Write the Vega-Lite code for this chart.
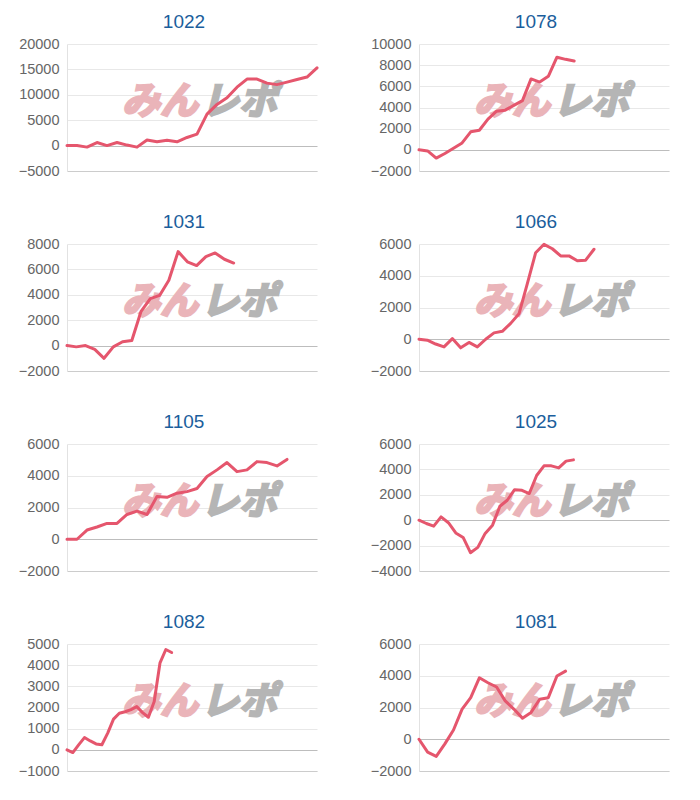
{
  "$schema": "https://vega.github.io/schema/vega-lite/v6.json",
  "background": "white",
  "padding": {"left": 18, "top": 13, "right": 5, "bottom": 5},
  "datasets": {
    "d1022": [{"i":0,"v":0},{"i":1,"v":0},{"i":2,"v":-300},{"i":3,"v":600},{"i":4,"v":0},{"i":5,"v":600},{"i":6,"v":100},{"i":7,"v":-300},{"i":8,"v":1100},{"i":9,"v":750},{"i":10,"v":1050},{"i":11,"v":750},{"i":12,"v":1600},{"i":13,"v":2250},{"i":14,"v":6200},{"i":15,"v":8100},{"i":16,"v":9400},{"i":17,"v":11500},{"i":18,"v":13100},{"i":19,"v":13100},{"i":20,"v":12300},{"i":21,"v":12000},{"i":22,"v":12500},{"i":23,"v":13000},{"i":24,"v":13500},{"i":25,"v":15300}],
    "d1078": [{"i":0,"v":0},{"i":1,"v":-100},{"i":2,"v":-780},{"i":3,"v":-350},{"i":4,"v":150},{"i":5,"v":650},{"i":6,"v":1700},{"i":7,"v":1850},{"i":8,"v":2900},{"i":9,"v":3650},{"i":10,"v":3750},{"i":11,"v":4200},{"i":12,"v":4650},{"i":13,"v":6700},{"i":14,"v":6400},{"i":15,"v":6950},{"i":16,"v":8750},{"i":17,"v":8550},{"i":18,"v":8400}],
    "d1031": [{"i":0,"v":0},{"i":1,"v":-100},{"i":2,"v":0},{"i":3,"v":-300},{"i":4,"v":-1000},{"i":5,"v":-100},{"i":6,"v":300},{"i":7,"v":400},{"i":8,"v":2700},{"i":9,"v":3700},{"i":10,"v":3950},{"i":11,"v":5150},{"i":12,"v":7400},{"i":13,"v":6600},{"i":14,"v":6300},{"i":15,"v":7000},{"i":16,"v":7300},{"i":17,"v":6800},{"i":18,"v":6500}],
    "d1066": [{"i":0,"v":0},{"i":1,"v":-60},{"i":2,"v":-300},{"i":3,"v":-480},{"i":4,"v":40},{"i":5,"v":-540},{"i":6,"v":-200},{"i":7,"v":-480},{"i":8,"v":0},{"i":9,"v":400},{"i":10,"v":500},{"i":11,"v":1000},{"i":12,"v":1600},{"i":13,"v":3500},{"i":14,"v":5450},{"i":15,"v":5980},{"i":16,"v":5700},{"i":17,"v":5250},{"i":18,"v":5250},{"i":19,"v":4940},{"i":20,"v":4980},{"i":21,"v":5670}],
    "d1105": [{"i":0,"v":0},{"i":1,"v":0},{"i":2,"v":580},{"i":3,"v":770},{"i":4,"v":1000},{"i":5,"v":1000},{"i":6,"v":1560},{"i":7,"v":1770},{"i":8,"v":1560},{"i":9,"v":2700},{"i":10,"v":2640},{"i":11,"v":2900},{"i":12,"v":3000},{"i":13,"v":3200},{"i":14,"v":3950},{"i":15,"v":4370},{"i":16,"v":4830},{"i":17,"v":4260},{"i":18,"v":4370},{"i":19,"v":4890},{"i":20,"v":4830},{"i":21,"v":4620},{"i":22,"v":5030}],
    "d1025": [{"i":0,"v":0},{"i":1,"v":-260},{"i":2,"v":-470},{"i":3,"v":260},{"i":4,"v":-200},{"i":5,"v":-1000},{"i":6,"v":-1360},{"i":7,"v":-2560},{"i":8,"v":-2140},{"i":9,"v":-1040},{"i":10,"v":-390},{"i":11,"v":1100},{"i":12,"v":1570},{"i":13,"v":2400},{"i":14,"v":2350},{"i":15,"v":2100},{"i":16,"v":3520},{"i":17,"v":4280},{"i":18,"v":4280},{"i":19,"v":4120},{"i":20,"v":4650},{"i":21,"v":4750}],
    "d1082": [{"i":0,"v":0},{"i":1,"v":-130},{"i":2,"v":230},{"i":3,"v":580},{"i":4,"v":420},{"i":5,"v":280},{"i":6,"v":240},{"i":7,"v":790},{"i":8,"v":1450},{"i":9,"v":1730},{"i":10,"v":1800},{"i":11,"v":1900},{"i":12,"v":2040},{"i":13,"v":1760},{"i":14,"v":1540},{"i":15,"v":2280},{"i":16,"v":4110},{"i":17,"v":4740},{"i":18,"v":4600}],
    "d1081": [{"i":0,"v":0},{"i":1,"v":-810},{"i":2,"v":-1080},{"i":3,"v":-290},{"i":4,"v":580},{"i":5,"v":1900},{"i":6,"v":2620},{"i":7,"v":3870},{"i":8,"v":3560},{"i":9,"v":3290},{"i":10,"v":2420},{"i":11,"v":1900},{"i":12,"v":1330},{"i":13,"v":1690},{"i":14,"v":2520},{"i":15,"v":2620},{"i":16,"v":3980},{"i":17,"v":4290}]
  },
  "columns": 2,
  "spacing": {"row": 35, "column": 51},
  "concat": [
    {
      "title": "1022", "width": 250, "height": 127, "data": {"name": "d1022"},
      "layer": [
        {"data": {"values": [{}]}, "mark": {"type": "text", "text": "みん", "font": "Noto Sans CJK JP", "fontSize": 38, "fontWeight": "bold", "fontStyle": "italic", "color": "#eab4b9", "stroke": "#eab4b9", "strokeWidth": 2.5, "align": "right", "baseline": "middle", "dx": 6, "dy": -5}, "encoding": {}},
        {"data": {"values": [{}]}, "mark": {"type": "text", "text": "レポ", "font": "Noto Sans CJK JP", "fontSize": 38, "fontWeight": "bold", "fontStyle": "italic", "color": "#b5b5b5", "stroke": "#b5b5b5", "strokeWidth": 2.5, "align": "left", "baseline": "middle", "dx": 9, "dy": -5}, "encoding": {}},
        {"mark": {"type": "line", "color": "#e5566d", "strokeWidth": 3, "strokeJoin": "round", "strokeCap": "round"},
         "encoding": {
           "x": {"field": "i", "type": "quantitative", "scale": {"domain": [0, 25], "nice": false, "zero": false}, "axis": {"labels": false, "ticks": false, "grid": false, "title": null, "domainColor": "#cccccc"}},
           "y": {"field": "v", "type": "quantitative", "scale": {"domain": [-5000, 20000], "nice": false}, "axis": {"values": [-5000, 0, 5000, 10000, 15000, 20000], "format": "d", "gridColor": {"condition": {"test": "datum.value === 0", "value": "#bdbdbd"}, "value": "#e8e8e8"}}}
         }}
      ]
    },
    {
      "title": "1078", "width": 250, "height": 127, "data": {"name": "d1078"},
      "layer": [
        {"data": {"values": [{}]}, "mark": {"type": "text", "text": "みん", "font": "Noto Sans CJK JP", "fontSize": 38, "fontWeight": "bold", "fontStyle": "italic", "color": "#eab4b9", "stroke": "#eab4b9", "strokeWidth": 2.5, "align": "right", "baseline": "middle", "dx": 6, "dy": -5}, "encoding": {}},
        {"data": {"values": [{}]}, "mark": {"type": "text", "text": "レポ", "font": "Noto Sans CJK JP", "fontSize": 38, "fontWeight": "bold", "fontStyle": "italic", "color": "#b5b5b5", "stroke": "#b5b5b5", "strokeWidth": 2.5, "align": "left", "baseline": "middle", "dx": 9, "dy": -5}, "encoding": {}},
        {"mark": {"type": "line", "color": "#e5566d", "strokeWidth": 3, "strokeJoin": "round", "strokeCap": "round"},
         "encoding": {
           "x": {"field": "i", "type": "quantitative", "scale": {"domain": [0, 29], "nice": false, "zero": false}, "axis": {"labels": false, "ticks": false, "grid": false, "title": null, "domainColor": "#cccccc"}},
           "y": {"field": "v", "type": "quantitative", "scale": {"domain": [-2000, 10000], "nice": false}, "axis": {"values": [-2000, 0, 2000, 4000, 6000, 8000, 10000], "format": "d", "gridColor": {"condition": {"test": "datum.value === 0", "value": "#bdbdbd"}, "value": "#e8e8e8"}}}
         }}
      ]
    },
    {
      "title": "1031", "width": 250, "height": 127, "data": {"name": "d1031"},
      "layer": [
        {"data": {"values": [{}]}, "mark": {"type": "text", "text": "みん", "font": "Noto Sans CJK JP", "fontSize": 38, "fontWeight": "bold", "fontStyle": "italic", "color": "#eab4b9", "stroke": "#eab4b9", "strokeWidth": 2.5, "align": "right", "baseline": "middle", "dx": 6, "dy": -5}, "encoding": {}},
        {"data": {"values": [{}]}, "mark": {"type": "text", "text": "レポ", "font": "Noto Sans CJK JP", "fontSize": 38, "fontWeight": "bold", "fontStyle": "italic", "color": "#b5b5b5", "stroke": "#b5b5b5", "strokeWidth": 2.5, "align": "left", "baseline": "middle", "dx": 9, "dy": -5}, "encoding": {}},
        {"mark": {"type": "line", "color": "#e5566d", "strokeWidth": 3, "strokeJoin": "round", "strokeCap": "round"},
         "encoding": {
           "x": {"field": "i", "type": "quantitative", "scale": {"domain": [0, 27], "nice": false, "zero": false}, "axis": {"labels": false, "ticks": false, "grid": false, "title": null, "domainColor": "#cccccc"}},
           "y": {"field": "v", "type": "quantitative", "scale": {"domain": [-2000, 8000], "nice": false}, "axis": {"values": [-2000, 0, 2000, 4000, 6000, 8000], "format": "d", "gridColor": {"condition": {"test": "datum.value === 0", "value": "#bdbdbd"}, "value": "#e8e8e8"}}}
         }}
      ]
    },
    {
      "title": "1066", "width": 250, "height": 127, "data": {"name": "d1066"},
      "layer": [
        {"data": {"values": [{}]}, "mark": {"type": "text", "text": "みん", "font": "Noto Sans CJK JP", "fontSize": 38, "fontWeight": "bold", "fontStyle": "italic", "color": "#eab4b9", "stroke": "#eab4b9", "strokeWidth": 2.5, "align": "right", "baseline": "middle", "dx": 6, "dy": -5}, "encoding": {}},
        {"data": {"values": [{}]}, "mark": {"type": "text", "text": "レポ", "font": "Noto Sans CJK JP", "fontSize": 38, "fontWeight": "bold", "fontStyle": "italic", "color": "#b5b5b5", "stroke": "#b5b5b5", "strokeWidth": 2.5, "align": "left", "baseline": "middle", "dx": 9, "dy": -5}, "encoding": {}},
        {"mark": {"type": "line", "color": "#e5566d", "strokeWidth": 3, "strokeJoin": "round", "strokeCap": "round"},
         "encoding": {
           "x": {"field": "i", "type": "quantitative", "scale": {"domain": [0, 30], "nice": false, "zero": false}, "axis": {"labels": false, "ticks": false, "grid": false, "title": null, "domainColor": "#cccccc"}},
           "y": {"field": "v", "type": "quantitative", "scale": {"domain": [-2000, 6000], "nice": false}, "axis": {"values": [-2000, 0, 2000, 4000, 6000], "format": "d", "gridColor": {"condition": {"test": "datum.value === 0", "value": "#bdbdbd"}, "value": "#e8e8e8"}}}
         }}
      ]
    },
    {
      "title": "1105", "width": 250, "height": 127, "data": {"name": "d1105"},
      "layer": [
        {"data": {"values": [{}]}, "mark": {"type": "text", "text": "みん", "font": "Noto Sans CJK JP", "fontSize": 38, "fontWeight": "bold", "fontStyle": "italic", "color": "#eab4b9", "stroke": "#eab4b9", "strokeWidth": 2.5, "align": "right", "baseline": "middle", "dx": 6, "dy": -5}, "encoding": {}},
        {"data": {"values": [{}]}, "mark": {"type": "text", "text": "レポ", "font": "Noto Sans CJK JP", "fontSize": 38, "fontWeight": "bold", "fontStyle": "italic", "color": "#b5b5b5", "stroke": "#b5b5b5", "strokeWidth": 2.5, "align": "left", "baseline": "middle", "dx": 9, "dy": -5}, "encoding": {}},
        {"mark": {"type": "line", "color": "#e5566d", "strokeWidth": 3, "strokeJoin": "round", "strokeCap": "round"},
         "encoding": {
           "x": {"field": "i", "type": "quantitative", "scale": {"domain": [0, 25], "nice": false, "zero": false}, "axis": {"labels": false, "ticks": false, "grid": false, "title": null, "domainColor": "#cccccc"}},
           "y": {"field": "v", "type": "quantitative", "scale": {"domain": [-2000, 6000], "nice": false}, "axis": {"values": [-2000, 0, 2000, 4000, 6000], "format": "d", "gridColor": {"condition": {"test": "datum.value === 0", "value": "#bdbdbd"}, "value": "#e8e8e8"}}}
         }}
      ]
    },
    {
      "title": "1025", "width": 250, "height": 127, "data": {"name": "d1025"},
      "layer": [
        {"data": {"values": [{}]}, "mark": {"type": "text", "text": "みん", "font": "Noto Sans CJK JP", "fontSize": 38, "fontWeight": "bold", "fontStyle": "italic", "color": "#eab4b9", "stroke": "#eab4b9", "strokeWidth": 2.5, "align": "right", "baseline": "middle", "dx": 6, "dy": -5}, "encoding": {}},
        {"data": {"values": [{}]}, "mark": {"type": "text", "text": "レポ", "font": "Noto Sans CJK JP", "fontSize": 38, "fontWeight": "bold", "fontStyle": "italic", "color": "#b5b5b5", "stroke": "#b5b5b5", "strokeWidth": 2.5, "align": "left", "baseline": "middle", "dx": 9, "dy": -5}, "encoding": {}},
        {"mark": {"type": "line", "color": "#e5566d", "strokeWidth": 3, "strokeJoin": "round", "strokeCap": "round"},
         "encoding": {
           "x": {"field": "i", "type": "quantitative", "scale": {"domain": [0, 34], "nice": false, "zero": false}, "axis": {"labels": false, "ticks": false, "grid": false, "title": null, "domainColor": "#cccccc"}},
           "y": {"field": "v", "type": "quantitative", "scale": {"domain": [-4000, 6000], "nice": false}, "axis": {"values": [-4000, -2000, 0, 2000, 4000, 6000], "format": "d", "gridColor": {"condition": {"test": "datum.value === 0", "value": "#bdbdbd"}, "value": "#e8e8e8"}}}
         }}
      ]
    },
    {
      "title": "1082", "width": 250, "height": 127, "data": {"name": "d1082"},
      "layer": [
        {"data": {"values": [{}]}, "mark": {"type": "text", "text": "みん", "font": "Noto Sans CJK JP", "fontSize": 38, "fontWeight": "bold", "fontStyle": "italic", "color": "#eab4b9", "stroke": "#eab4b9", "strokeWidth": 2.5, "align": "right", "baseline": "middle", "dx": 6, "dy": -5}, "encoding": {}},
        {"data": {"values": [{}]}, "mark": {"type": "text", "text": "レポ", "font": "Noto Sans CJK JP", "fontSize": 38, "fontWeight": "bold", "fontStyle": "italic", "color": "#b5b5b5", "stroke": "#b5b5b5", "strokeWidth": 2.5, "align": "left", "baseline": "middle", "dx": 9, "dy": -5}, "encoding": {}},
        {"mark": {"type": "line", "color": "#e5566d", "strokeWidth": 3, "strokeJoin": "round", "strokeCap": "round"},
         "encoding": {
           "x": {"field": "i", "type": "quantitative", "scale": {"domain": [0, 43], "nice": false, "zero": false}, "axis": {"labels": false, "ticks": false, "grid": false, "title": null, "domainColor": "#cccccc"}},
           "y": {"field": "v", "type": "quantitative", "scale": {"domain": [-1000, 5000], "nice": false}, "axis": {"values": [-1000, 0, 1000, 2000, 3000, 4000, 5000], "format": "d", "gridColor": {"condition": {"test": "datum.value === 0", "value": "#bdbdbd"}, "value": "#e8e8e8"}}}
         }}
      ]
    },
    {
      "title": "1081", "width": 250, "height": 127, "data": {"name": "d1081"},
      "layer": [
        {"data": {"values": [{}]}, "mark": {"type": "text", "text": "みん", "font": "Noto Sans CJK JP", "fontSize": 38, "fontWeight": "bold", "fontStyle": "italic", "color": "#eab4b9", "stroke": "#eab4b9", "strokeWidth": 2.5, "align": "right", "baseline": "middle", "dx": 6, "dy": -5}, "encoding": {}},
        {"data": {"values": [{}]}, "mark": {"type": "text", "text": "レポ", "font": "Noto Sans CJK JP", "fontSize": 38, "fontWeight": "bold", "fontStyle": "italic", "color": "#b5b5b5", "stroke": "#b5b5b5", "strokeWidth": 2.5, "align": "left", "baseline": "middle", "dx": 9, "dy": -5}, "encoding": {}},
        {"mark": {"type": "line", "color": "#e5566d", "strokeWidth": 3, "strokeJoin": "round", "strokeCap": "round"},
         "encoding": {
           "x": {"field": "i", "type": "quantitative", "scale": {"domain": [0, 29], "nice": false, "zero": false}, "axis": {"labels": false, "ticks": false, "grid": false, "title": null, "domainColor": "#cccccc"}},
           "y": {"field": "v", "type": "quantitative", "scale": {"domain": [-2000, 6000], "nice": false}, "axis": {"values": [-2000, 0, 2000, 4000, 6000], "format": "d", "gridColor": {"condition": {"test": "datum.value === 0", "value": "#bdbdbd"}, "value": "#e8e8e8"}}}
         }}
      ]
    }
  ],
  "resolve": {"scale": {"x": "independent", "y": "independent"}},
  "config": {
    "view": {"stroke": null},
    "axisY": {"ticks": false, "title": null, "domainColor": "#e2e2e2", "labelFont": "Liberation Sans", "labelFontSize": 14.5, "labelColor": "#666666", "labelPadding": 8, "gridWidth": 1},
    "title": {"font": "Liberation Sans", "fontSize": 19, "fontWeight": "normal", "color": "#1b5e9c", "anchor": "middle", "frame": "group", "offset": 4, "dx": -8}
  }
}
